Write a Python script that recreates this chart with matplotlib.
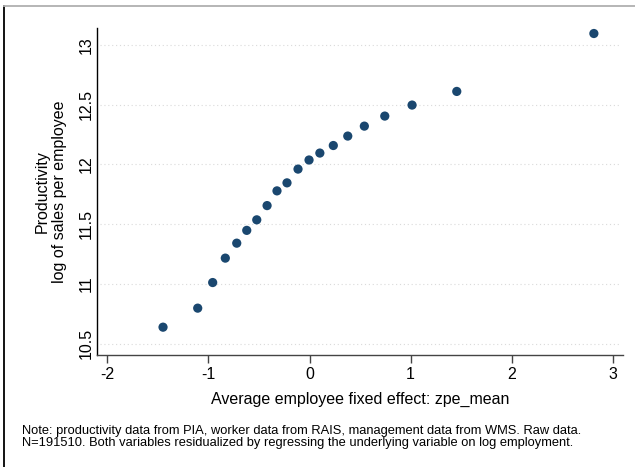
import matplotlib
matplotlib.use("Agg")
import matplotlib.pyplot as plt
from matplotlib.lines import Line2D

plt.rcParams['font.family'] = ['Liberation Sans', 'DejaVu Sans']

x_vals = [-1.449, -1.106, -0.958, -0.833, -0.720, -0.621, -0.522, -0.420, -0.322, -0.223,
          -0.114, -0.005, 0.102, 0.235, 0.378, 0.542, 0.744, 1.014, 1.456, 2.812]
y_vals = [10.640, 10.799, 11.013, 11.217, 11.342, 11.449, 11.537, 11.656, 11.779, 11.846,
          11.961, 12.037, 12.095, 12.158, 12.237, 12.320, 12.404, 12.496, 12.610, 13.094]
x_ticks = [-2, -1, 0, 1, 2, 3]
y_ticks = [10.5, 11, 11.5, 12, 12.5, 13]
y_ticklabels = ["10.5", "11", "11.5", "12", "12.5", "13"]

W, H = 635, 467
fig = plt.figure(figsize=(W / 100, H / 100), dpi=100)
left, right, bottom, top = 97 / W, 623 / W, 1 - 354.7 / H, 1 - 28 / H
ax = fig.add_axes([left, bottom, right - left, top - bottom])

for yt in y_ticks:
    ax.axhline(yt, xmin=0.005, xmax=0.995, color='#dadada', lw=0.8, ls=(0, (1, 2.5)), zorder=1)

ax.scatter(x_vals, y_vals, s=44, color='#1a476f', edgecolors='none', zorder=3)

ax.set_xlim(-2.102, 3.10)
ax.set_ylim(10.41, 13.14)
ax.set_xticks(x_ticks)
ax.set_xticklabels([str(v) for v in x_ticks])
ax.set_yticks(y_ticks)
ax.set_yticklabels(y_ticklabels, rotation=90, va='center')

for s in ['top', 'right']:
    ax.spines[s].set_visible(False)
ax.spines['left'].set_color('black')
ax.spines['left'].set_linewidth(1.0)
ax.spines['bottom'].set_color('#444444')
ax.spines['bottom'].set_linewidth(1.0)

ax.tick_params(axis='x', direction='out', length=6, width=1, color='#444444',
               labelsize=11.5, pad=3)
ax.tick_params(axis='y', length=0, labelsize=11.5, pad=2)

ax.set_xlabel("Average employee fixed effect: zpe_mean", fontsize=11.5, labelpad=7)
ax.set_ylabel("Productivity\nlog of sales per employee", fontsize=11.5, labelpad=9,
              linespacing=1.2)

fig.text(22 / W, 1 - 437 / H,
         "Note: productivity data from PIA, worker data from RAIS, management data from WMS. Raw data.\n"
         "N=191510. Both variables residualized by regressing the underlying variable on log employment.",
         fontsize=9.3, ha='left', va='center', linespacing=1.0)

fig.add_artist(Line2D([4 / W, 4 / W], [0, 1 - 6 / H], color='black', lw=1.3,
                      transform=fig.transFigure))
fig.add_artist(Line2D([4 / W, 1], [1 - 6 / H, 1 - 6 / H], color='#b0b0b0', lw=1.3,
                      transform=fig.transFigure))

fig.savefig("out.png", dpi=100)
